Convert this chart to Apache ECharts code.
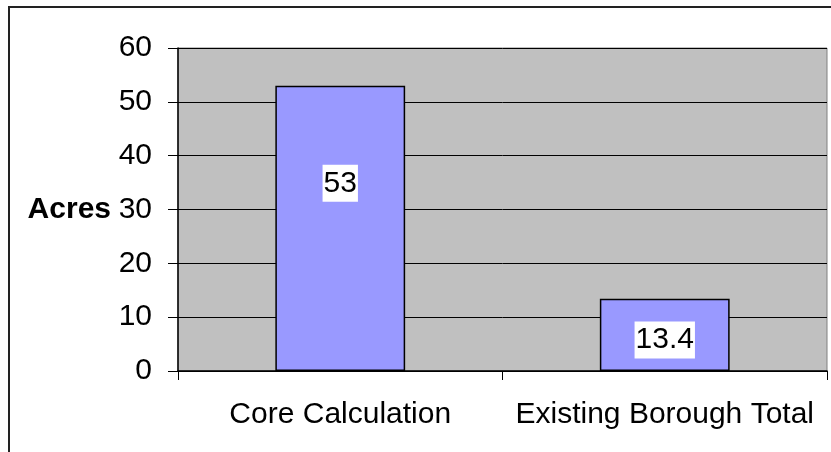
<!DOCTYPE html>
<html>
<head>
<meta charset="utf-8">
<script src="https://cdn.jsdelivr.net/npm/echarts@6/dist/echarts.min.js"></script>
<style>
html,body{margin:0;padding:0;background:#fff;}
#main{width:831px;height:452px;}
</style>
</head>
<body>
<div id="main"></div>
<script>
var categories = ['Core Calculation', 'Existing Borough Total'];
var acres = [53, 13.4];
var labelOffsets = [[0, -45], [0, 5]];
var yTicks = { min: 0, max: 60, interval: 10 };

var chart = echarts.init(document.getElementById('main'), null, { renderer: 'canvas' });
var FONT = 'Liberation Sans, Arial, sans-serif';

chart.setOption({
  animation: false,
  backgroundColor: '#ffffff',
  graphic: [{
    type: 'rect',
    shape: { x: 9, y: 7, width: 900, height: 500 },
    style: { fill: 'none', stroke: '#222', lineWidth: 2 },
    silent: true
  }],
  grid: {
    left: 178, top: 48, right: 4, bottom: 81,
    show: true, backgroundColor: '#C0C0C0', borderColor: '#808080', borderWidth: 1
  },
  xAxis: {
    type: 'category',
    data: categories,
    axisLine: { lineStyle: { color: '#000', width: 1.5 } },
    axisTick: { show: true, length: 9, alignWithLabel: false, lineStyle: { color: '#000' } },
    axisLabel: { color: '#000', fontSize: 30, fontFamily: FONT, margin: 29, interval: 0 },
    splitLine: { show: false }
  },
  yAxis: {
    type: 'value',
    min: yTicks.min, max: yTicks.max, interval: yTicks.interval,
    name: 'Acres',
    nameLocation: 'middle',
    nameRotate: 0,
    nameGap: 67,
    nameTextStyle: { color: '#000', fontSize: 30, fontWeight: 'bold', fontFamily: FONT, align: 'right' },
    axisLine: { show: true, lineStyle: { color: '#000', width: 1.5 } },
    axisTick: { show: true, length: 10, inside: false, lineStyle: { color: '#000' } },
    axisLabel: { color: '#000', fontSize: 30, fontFamily: FONT, margin: 26 },
    splitLine: { show: true, lineStyle: { color: '#000', width: 1 } }
  },
  series: [{
    type: 'bar',
    barWidth: '40%',
    data: acres.map(function (v, i) {
      return { value: v, label: { offset: labelOffsets[i] } };
    }),
    itemStyle: { color: '#9999FF', borderColor: '#000', borderWidth: 1.5 },
    label: {
      show: true,
      position: 'inside',
      color: '#000',
      fontSize: 30,
      fontFamily: FONT,
      backgroundColor: '#fff',
      padding: [4, 1, 3, 1]
    }
  }]
});
</script>
</body>
</html>
